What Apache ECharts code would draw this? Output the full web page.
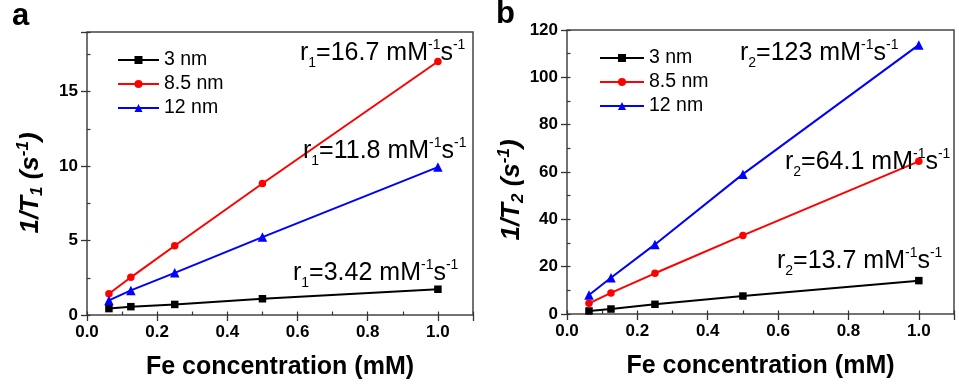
<!DOCTYPE html>
<html>
<head>
<meta charset="utf-8">
<script src="https://cdn.jsdelivr.net/npm/echarts@6/dist/echarts.min.js"></script>
<style>
html,body{margin:0;padding:0;background:#fff;}
#c{width:959px;height:385px;}
</style>
</head>
<body>
<div id="c"></div>
<script>
// ---- data ----
const conc = [0.0625, 0.125, 0.25, 0.5, 1.0];
const seriesNames = ['3 nm', '8.5 nm', '12 nm'];
const t1_3nm  = [0.43, 0.56, 0.71, 1.09, 1.73];
const t1_85nm = [1.43, 2.53, 4.65, 8.83, 17.02];
const t1_12nm = [0.98, 1.65, 2.83, 5.23, 9.93];
const t2_3nm  = [1.27, 2.1, 4.1, 7.6, 14.1];
const t2_85nm = [4.5, 8.9, 17.2, 33.2, 64.5];
const t2_12nm = [8.0, 15.3, 29.4, 59.1, 113.7];
const r1Labels = ['3.42', '16.7', '11.8'];
const r2Labels = ['13.7', '64.1', '123'];
const xTitle = 'Fe concentration (mM)';

const FONT = '"Liberation Sans", Arial, Helvetica, sans-serif';
const colors = ['#000000', '#ff0000', '#0000ff'];
const symbols = ['rect', 'circle', 'triangle'];
const symSizes = [7.5, 7.5, 9.5];

const chart = echarts.init(document.getElementById('c'), null, {renderer: 'canvas'});

function pairs(ys) { return conc.map((x, i) => [x, ys[i]]); }

function majorX(gi) {
  return {
    type: 'value', gridIndex: gi, min: 0, max: 1.1, interval: 0.2,
    axisLine: {show: false},
    axisTick: {show: true, inside: false, length: 6, lineStyle: {color: '#333', width: 1.3}},
    splitLine: {show: false},
    axisLabel: {
      margin: 9, color: '#000', fontSize: 17, fontWeight: 'bold', fontFamily: FONT,
      formatter: v => Math.abs(v / 0.2 - Math.round(v / 0.2)) < 1e-6 ? v.toFixed(1) : ''
    },
    name: xTitle, nameLocation: 'middle', nameGap: 40,
    nameTextStyle: {fontSize: 25, fontWeight: 'bold', color: '#000', fontFamily: FONT}
  };
}
function minorX(gi) {
  return {
    type: 'value', gridIndex: gi, min: 0, max: 1.1, interval: 0.1,
    axisLine: {show: false},
    axisTick: {show: true, inside: false, length: 3.5, lineStyle: {color: '#333', width: 1.2}},
    splitLine: {show: false}, axisLabel: {show: false}
  };
}
function majorY(gi, max, interval) {
  return {
    type: 'value', gridIndex: gi, min: 0, max: max, interval: interval,
    axisLine: {show: false},
    axisTick: {show: true, inside: false, length: 6, lineStyle: {color: '#333', width: 1.3}},
    splitLine: {show: false},
    axisLabel: {
      margin: 9, color: '#000', fontSize: 17, fontWeight: 'bold', fontFamily: FONT,
      formatter: v => Math.abs(v / interval - Math.round(v / interval)) < 1e-6 ? String(v) : ''
    }
  };
}
function minorY(gi, max, interval) {
  return {
    type: 'value', gridIndex: gi, min: 0, max: max, interval: interval,
    axisLine: {show: false},
    axisTick: {show: true, inside: false, length: 3.5, lineStyle: {color: '#333', width: 1.2}},
    splitLine: {show: false}, axisLabel: {show: false}
  };
}

function mkSeries(name, idx, data, xi, yi) {
  return {
    type: 'line', name: name, xAxisIndex: xi, yAxisIndex: yi,
    data: pairs(data),
    symbol: symbols[idx], symbolSize: symSizes[idx], showSymbol: true,
    lineStyle: {color: colors[idx], width: 2},
    itemStyle: {color: colors[idx]},
    animation: false, z: 3
  };
}

const rich = {
  m:   {fontSize: 25, fontFamily: FONT, color: '#000'},
  sub: {fontSize: 14, fontFamily: FONT, color: '#000', padding: [20, 0, 0, 0]},
  sup: {fontSize: 14, fontFamily: FONT, color: '#000', padding: [0, 0, 16, 0]}
};
function rLabel(k, v) {
  return '{m|r}{sub|' + k + '}{m|=' + v + ' mM}{sup|-1}{m|s}{sup|-1}';
}
function annot(text, x, y) {
  return {
    type: 'text', x: x, y: y, z: 10,
    style: {text: text, rich: rich, fill: '#000', align: 'left', verticalAlign: 'middle'}
  };
}
const yRich = {
  m:   {fontSize: 26, fontWeight: 'bold', fontStyle: 'italic', fontFamily: FONT, color: '#000'},
  sub: {fontSize: 17, fontWeight: 'bold', fontStyle: 'italic', fontFamily: FONT, color: '#000', padding: [12, 0, 0, 0]},
  sup: {fontSize: 17, fontWeight: 'bold', fontStyle: 'italic', fontFamily: FONT, color: '#000', padding: [0, 0, 16, 0]}
};
function yTitle(k, x, y) {
  return {
    type: 'text', x: x, y: y, rotation: Math.PI / 2, z: 10,
    style: {
      text: '{m|1/T}{sub|' + k + '}{m| (s}{sup|-1}{m|)}', rich: yRich,
      align: 'center', verticalAlign: 'middle', fill: '#000'
    }
  };
}

const legendCommon = {
  orient: 'vertical', itemHeight: 10, itemGap: 4,
  data: seriesNames,
  textStyle: {fontSize: 19.5, color: '#000', fontFamily: FONT, lineHeight: 20},
  selectedMode: false
};

const option = {
  backgroundColor: '#fff',
  animation: false,
  grid: [
    {left: 87, top: 32, width: 386, height: 283, show: true, borderColor: '#444', borderWidth: 1.5, backgroundColor: 'transparent'},
    {left: 567, top: 30, width: 387, height: 284, show: true, borderColor: '#444', borderWidth: 1.5, backgroundColor: 'transparent'}
  ],
  xAxis: [majorX(0), minorX(0), majorX(1), minorX(1)],
  yAxis: [majorY(0, 19, 5), minorY(0, 19, 2.5), majorY(1, 120, 20), minorY(1, 120, 10)],
  legend: [
    Object.assign({left: 112, top: 45, itemWidth: 41}, legendCommon),
    Object.assign({left: 594, top: 43, itemWidth: 44}, legendCommon)
  ],
  series: [
    mkSeries(seriesNames[0], 0, t1_3nm, 0, 0),
    mkSeries(seriesNames[1], 1, t1_85nm, 0, 0),
    mkSeries(seriesNames[2], 2, t1_12nm, 0, 0),
    mkSeries(seriesNames[0], 0, t2_3nm, 2, 2),
    mkSeries(seriesNames[1], 1, t2_85nm, 2, 2),
    mkSeries(seriesNames[2], 2, t2_12nm, 2, 2)
  ],
  graphic: [
    {type: 'text', x: 12, y: 16, style: {text: 'a', font: 'bold 31px ' + FONT, fill: '#000', verticalAlign: 'middle'}},
    {type: 'text', x: 496, y: 14, style: {text: 'b', font: 'bold 31px ' + FONT, fill: '#000', verticalAlign: 'middle'}},
    annot(rLabel(1, r1Labels[1]), 300, 53),
    annot(rLabel(1, r1Labels[2]), 303, 151),
    annot(rLabel(1, r1Labels[0]), 293, 273),
    annot(rLabel(2, r2Labels[2]), 740, 53),
    annot(rLabel(2, r2Labels[1]), 785, 162),
    annot(rLabel(2, r2Labels[0]), 777, 261),
    yTitle(1, 31, 183),
    yTitle(2, 512, 190)
  ]
};
chart.setOption(option);
</script>
</body>
</html>
